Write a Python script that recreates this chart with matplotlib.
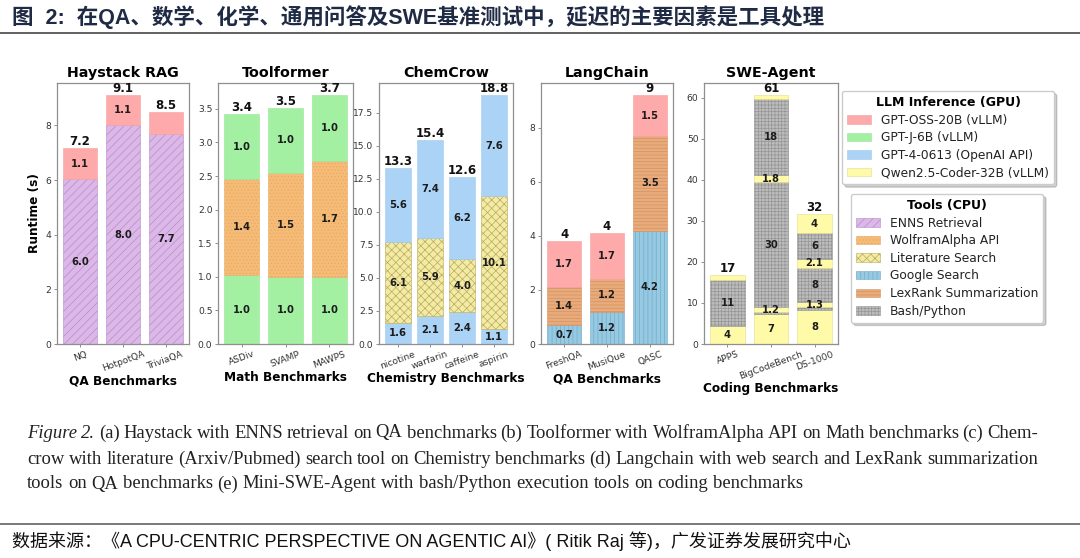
import matplotlib
matplotlib.use('Agg')
import matplotlib.pyplot as plt
from matplotlib.patches import Patch
from matplotlib.lines import Line2D
from matplotlib.ticker import MultipleLocator

# canvas size in pixels (dpi 100)
W, H = 1080, 558

plt.rcParams['font.family'] = 'DejaVu Sans'
plt.rcParams['hatch.linewidth'] = 0.5

# ---------------- data ----------------
haystack_bench = ['NQ', 'HotpotQA', 'TriviaQA']
haystack_kinds = [['enns', 'oss'], ['enns', 'oss'], ['enns', 'oss']]
haystack_vals = [[6.04, 1.12], [8.0, 1.1], [7.7, 0.8]]

toolformer_bench = ['ASDiv', 'SVAMP', 'MAWPS']
toolformer_kinds = [['gptj', 'wolfram', 'gptj']] * 3
toolformer_vals = [[1.02, 1.43, 0.97], [1.0, 1.54, 0.98], [1.0, 1.73, 0.97]]

chem_bench = ['nicotine', 'warfarin', 'caffeine', 'aspirin']
chem_kinds = [['gpt4', 'lit', 'gpt4']] * 4
chem_vals = [[1.6, 6.1, 5.6], [2.1, 5.9, 7.4], [2.4, 4.0, 6.2], [1.1, 10.1, 7.6]]

lang_bench = ['FreshQA', 'MusiQue', 'QASC']
lang_kinds = [['google', 'lexrank', 'oss']] * 3
lang_vals = [[0.7, 1.4, 1.7], [1.2, 1.2, 1.7], [4.2, 3.5, 1.5]]

swe_bench = ['APPS', 'BigCodeBench', 'DS-1000']
swe_kinds = [['qwen', 'bash', 'qwen'],
             ['qwen', 'bash', 'qwen', 'bash', 'qwen', 'bash', 'qwen'],
             ['qwen', 'bash', 'qwen', 'bash', 'qwen', 'bash', 'qwen']]
swe_vals = [[4.3, 11.4, 1.0],
            [7.2, 0.6, 1.2, 30.4, 1.8, 18.45, 0.9],
            [8.3, 0.6, 1.3, 8.4, 2.1, 6.4, 4.45]]

llm_keys = ['oss', 'gptj', 'gpt4', 'qwen']
llm_names = ['GPT-OSS-20B (vLLM)', 'GPT-J-6B (vLLM)', 'GPT-4-0613 (OpenAI API)',
             'Qwen2.5-Coder-32B (vLLM)']
tool_keys = ['enns', 'wolfram', 'lit', 'google', 'lexrank', 'bash']
tool_names = ['ENNS Retrieval', 'WolframAlpha API', 'Literature Search', 'Google Search',
              'LexRank Summarization', 'Bash/Python']

# ---------------- styles ----------------
style = {
    'oss':     dict(color='#ffaaaa', edgecolor='#f4a0a0', hatch=None),
    'gptj':    dict(color='#a3f0a3', edgecolor='#9ae69a', hatch=None),
    'gpt4':    dict(color='#aad3f6', edgecolor='#a0c9ec', hatch=None),
    'qwen':    dict(color='#fffaa8', edgecolor='#e2dc8c', hatch=None),
    'enns':    dict(color='#dcb8e8', edgecolor='#b68cc8', hatch='////'),
    'wolfram': dict(color='#f6bb76', edgecolor='#e8aa62', hatch='.....'),
    'lit':     dict(color='#f3eaa6', edgecolor='#b9ab5a', hatch='xxxx'),
    'google':  dict(color='#96c9e2', edgecolor='#74abc8', hatch='||||'),
    'lexrank': dict(color='#eaab7c', edgecolor='#d39260', hatch='-----'),
    'bash':    dict(color='#bcbcbc', edgecolor='#959595', hatch='+++++'),
}

def fmt1(v):
    return f'{v:.1f}'

def fmt0(v):
    return f'{v:.0f}'

def fmt_swe(v):
    return f'{v:.0f}' if v >= 3 else f'{v:.1f}'

# axes boxes in pixels: left, width (all share top/bottom)
ax_top, ax_bot = 83, 344

fig = plt.figure(figsize=(W / 100, H / 100), dpi=100)


def draw_panel(left, width, title, bench, kinds, vals, xlabel, seg_fmt, tot_fmt,
               min_label, ystep, ylab=False):
    ax = fig.add_axes([left / W, 1 - ax_bot / H, width / W, (ax_bot - ax_top) / H])
    for i in range(len(bench)):
        bottom = 0
        for k, v in zip(kinds[i], vals[i]):
            st = style[k]
            ax.bar(i, v, bottom=bottom, width=0.8, color=st['color'],
                   edgecolor=st['edgecolor'], hatch=st['hatch'], linewidth=0.4)
            if v >= min_label:
                ax.text(i, bottom + v / 2, seg_fmt(v), ha='center', va='center',
                        fontsize=7.2, fontweight='bold', color='#1c1c1c')
            bottom += v
        ax.text(i, bottom, tot_fmt(bottom), ha='center', va='bottom',
                fontsize=8.5, fontweight='bold', color='#111111')
    ax.set_xticks(range(len(bench)), bench, rotation=20)
    ax.yaxis.set_major_locator(MultipleLocator(ystep))
    ax.set_title(title, fontsize=10.3, fontweight='bold', pad=4)
    ax.set_xlabel(xlabel, fontsize=8.7, fontweight='bold', labelpad=1)
    if ylab:
        ax.set_ylabel('Runtime (s)', fontsize=8.7, fontweight='bold', labelpad=3)
    for s in ax.spines.values():
        s.set_color('#8f8f8f')
        s.set_linewidth(0.9)
    ax.tick_params(colors='#8f8f8f', labelcolor='#333333', labelsize=6.6,
                   length=2.5, width=0.7, pad=1.5)
    return ax


draw_panel(57, 132, 'Haystack RAG', haystack_bench, haystack_kinds, haystack_vals,
           'QA Benchmarks', fmt1, fmt1, 0.9, 2, ylab=True)
draw_panel(218, 135, 'Toolformer', toolformer_bench, toolformer_kinds, toolformer_vals,
           'Math Benchmarks', fmt1, fmt1, 0.5, 0.5)
draw_panel(379, 134, 'ChemCrow', chem_bench, chem_kinds, chem_vals,
           'Chemistry Benchmarks', fmt1, fmt1, 0.5, 2.5)
draw_panel(541, 132, 'LangChain', lang_bench, lang_kinds, lang_vals,
           'QA Benchmarks', fmt1, fmt0, 0.5, 2)
draw_panel(704, 134, 'SWE-Agent', swe_bench, swe_kinds, swe_vals,
           'Coding Benchmarks', fmt_swe, fmt0, 1.15, 10)

# ---------------- legends ----------------
def handles(keys):
    return [Patch(facecolor=style[k]['color'], edgecolor=style[k]['edgecolor'],
                  hatch=style[k]['hatch'], linewidth=0.4) for k in keys]

leg_kw = dict(loc='upper center', fontsize=8.8, frameon=True, fancybox=True,
              edgecolor='#cccccc', framealpha=1, shadow={'alpha': 0.25},
              title_fontproperties={'weight': 'bold', 'size': 9},
              handlelength=2.0, handleheight=0.7, labelspacing=0.38,
              borderpad=0.4, handletextpad=0.8, labelcolor='#222222',
              borderaxespad=0)
leg1 = fig.legend(handles(llm_keys), llm_names, bbox_to_anchor=(948 / W, 1 - 91 / H),
                  title='LLM Inference (GPU)', **leg_kw)
leg2 = fig.legend(handles(tool_keys), tool_names, bbox_to_anchor=(947 / W, 1 - 194 / H),
                  title='Tools (CPU)', **leg_kw)

# ---------------- page header / footer ----------------
fig.text(12 / W, 1 - 17 / H,
         '图  2:  在QA、数学、化学、通用问答及SWE基准测试中，延迟的主要因素是工具处理',
         fontsize=15.5, fontweight='bold', family=['Liberation Sans', 'Noto Sans CJK SC'],
         va='center', ha='left', color='#1f2a44')
fig.add_artist(Line2D([0, 1], [1 - 33 / H, 1 - 33 / H], transform=fig.transFigure,
                      color='#555555', linewidth=1.3))
fig.add_artist(Line2D([0, 1], [1 - 524 / H, 1 - 524 / H], transform=fig.transFigure,
                      color='#555555', linewidth=1.1))
fig.text(12 / W, 1 - 541 / H,
         '数据来源：《A CPU-CENTRIC PERSPECTIVE ON AGENTIC AI》( Ritik Raj 等)，广发证券发展研究中心',
         fontsize=13, family=['Liberation Sans', 'Noto Sans CJK SC'], va='center',
         ha='left', color='#111111')

# ---------------- caption (justified lines) ----------------
cap_lines = [
    [('Figure', True), ('2.', True)] + [(w, False) for w in
        '(a) Haystack with ENNS retrieval on QA benchmarks (b) Toolformer with '
        'WolframAlpha API on Math benchmarks (c) Chem-'.split()],
    [(w, False) for w in
        'crow with literature (Arxiv/Pubmed) search tool on Chemistry benchmarks (d) '
        'Langchain with web search and LexRank summarization'.split()],
    [(w, False) for w in
        'tools on QA benchmarks (e) Mini-SWE-Agent with bash/Python execution tools '
        'on coding benchmarks'.split()],
]
cap_y = [433, 459, 484]
cap_x0, cap_x1 = 27, 1038
cap_size = 13.4

renderer = fig.canvas.get_renderer()
for li, (words, yp) in enumerate(zip(cap_lines, cap_y)):
    texts = []
    for w, it in words:
        t = fig.text(0, 1 - yp / H, w, fontsize=cap_size, family='Liberation Serif',
                     style='italic' if it else 'normal', va='center', ha='left',
                     color='#222222')
        texts.append(t)
    widths = [t.get_window_extent(renderer).width for t in texts]
    if li < len(cap_lines) - 1:
        gap = (cap_x1 - cap_x0 - sum(widths)) / (len(words) - 1)
    else:
        gap = 0.25 * cap_size * 100 / 72
    x = cap_x0
    for t, wd in zip(texts, widths):
        t.set_x(x / W)
        x += wd + gap

fig.savefig('out.png', dpi=100, facecolor='white')
